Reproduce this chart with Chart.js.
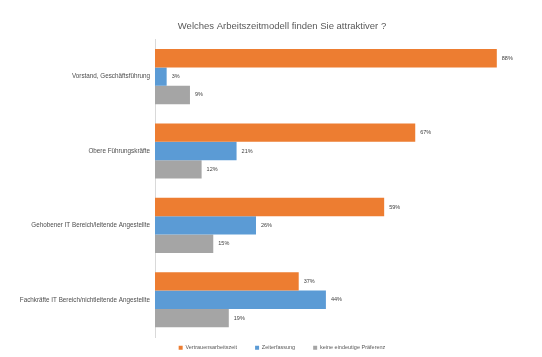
<!DOCTYPE html>
<html><head><meta charset="utf-8">
<script src="https://cdn.jsdelivr.net/npm/chart.js@4/dist/chart.umd.min.js"></script>
<style>html,body{margin:0;padding:0;background:#fff}#wrap{width:542px;height:357px}</style>
</head><body><div id="wrap"><canvas id="c" width="542" height="357"></canvas></div>
<script>
const categories = ["Vorstand, Geschäftsführung", "Obere Führungskräfte", "Gehobener IT Bereich/leitende Angestellte", "Fachkräfte IT Bereich/nichtleitende Angestellte"];
const seriesNames = ["Vertrauensarbeitszeit", "Zeiterfassung", "keine eindeutige Präferenz"];
const vertrauensarbeitszeit = [88, 67, 59, 37];
const zeiterfassung = [3, 21, 26, 44];
const keinePraeferenz = [9, 12, 15, 19];
const colors = ["#ED7D31", "#5B9BD5", "#A5A5A5"];

const FONT = '"Liberation Sans", Arial, sans-serif';

const labelPlugin = {
  id: 'barLabels',
  afterLayout(chart) {
    if (chart.titleBlock) { chart.titleBlock.left += 40; }
    if (chart.legend) { chart.legend.left += 40; chart.legend.top -= 10; }
  },
  afterDatasetsDraw(chart) {
    const ctx = chart.ctx;
    ctx.save();
    ctx.font = '5.5px ' + FONT;
    ctx.fillStyle = '#404040';
    ctx.textBaseline = 'middle';
    ctx.textAlign = 'left';
    chart.data.datasets.forEach((ds, i) => {
      chart.getDatasetMeta(i).data.forEach((bar, j) => {
        ctx.fillText(ds.data[j] + '%', bar.x + 5, bar.y);
      });
    });
    ctx.restore();
  }
};

new Chart(document.getElementById('c'), {
  type: 'bar',
  data: {
    labels: categories,
    datasets: [
      {label: seriesNames[0], data: vertrauensarbeitszeit, backgroundColor: colors[0]},
      {label: seriesNames[1], data: zeiterfassung, backgroundColor: colors[1]},
      {label: seriesNames[2], data: keinePraeferenz, backgroundColor: colors[2]}
    ]
  },
  options: {
    indexAxis: 'y',
    responsive: false,
    animation: false,
    devicePixelRatio: 1,
    layout: {padding: {left: 0, right: 18, top: 18, bottom: 0}},
    datasets: {bar: {categoryPercentage: 0.74, barPercentage: 1.0}},
    scales: {
      x: {display: false, min: 0, max: 95},
      y: {
        grid: {display: false, drawTicks: false},
        border: {display: true, color: '#D9D9D9'},
        ticks: {font: {size: 6.3, family: FONT}, color: '#4D4D4D', padding: 5},
        afterFit(scale) { scale.width = 155; }
      }
    },
    plugins: {
      title: {display: true, text: 'Welches Arbeitszeitmodell finden Sie attraktiver ?', color: '#595959',
        font: {size: 9.5, weight: 'normal', family: FONT}, padding: {top: 3, bottom: 7}},
      legend: {position: 'bottom', maxHeight: 20, labels: {boxWidth: 4, boxHeight: 4, padding: 18, color: '#595959',
        font: {size: 5.5, family: FONT}}},
      tooltip: {enabled: false}
    }
  },
  plugins: [labelPlugin]
});
</script></body></html>
